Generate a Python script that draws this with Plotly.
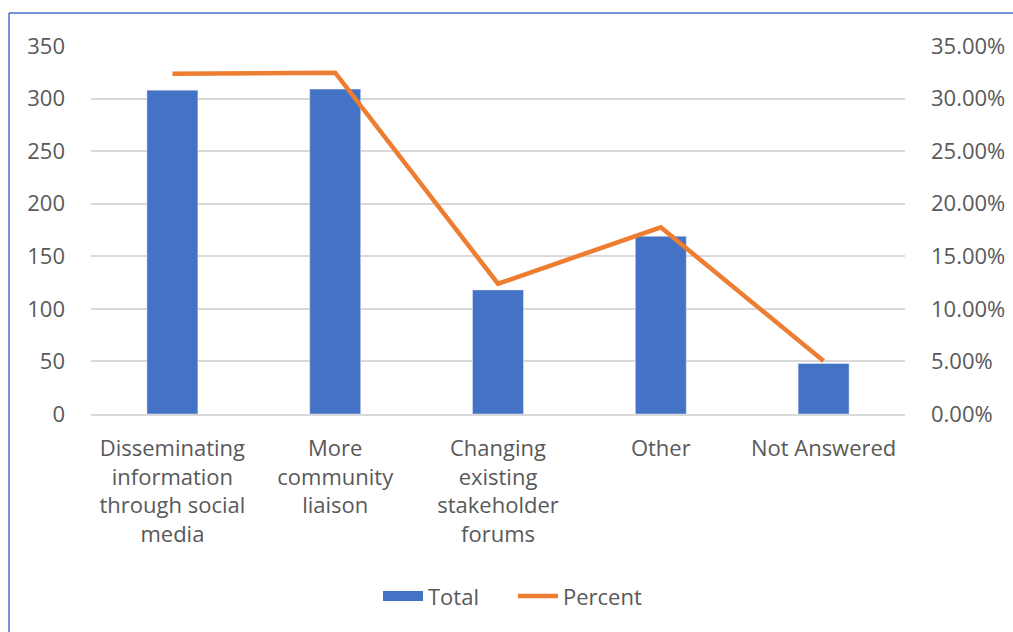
import plotly.graph_objects as go

categories = ["Disseminating<br>information<br>through social<br>media",
              "More<br>community<br>liaison",
              "Changing<br>existing<br>stakeholder<br>forums",
              "Other",
              "Not Answered"]
totals = [308, 309, 118, 169, 48]
percent = [0.3235, 0.3246, 0.1239, 0.1775, 0.0504]

left_ticks = [0, 50, 100, 150, 200, 250, 300, 350]
right_ticks = [0, 0.05, 0.10, 0.15, 0.20, 0.25, 0.30, 0.35]
right_labels = ["0.00%", "5.00%", "10.00%", "15.00%", "20.00%", "25.00%", "30.00%", "35.00%"]

W, H = 1013, 632
L, R, T, B = 91, 108, 46, 218
pw, ph = W - L - R, H - T - B

fig = go.Figure()
fig.add_trace(go.Bar(x=categories, y=totals, name="Total", marker_color="#4472C4",
                     width=0.313, yaxis="y", showlegend=False))
# legend entry for the bars (wide swatch like the original)
fig.add_trace(go.Scatter(x=[None], y=[None], name="Total", mode="lines",
                         line=dict(color="#4472C4", width=14), yaxis="y"))
fig.add_trace(go.Scatter(x=categories, y=percent, name="Percent", mode="lines",
                         line=dict(color="#ED7D31", width=4.5), yaxis="y2"))

font = dict(family="Open Sans", size=22, color="#595959")

fig.update_layout(
    width=W, height=H,
    margin=dict(l=L, r=R, t=T, b=B, autoexpand=False),
    paper_bgcolor="white", plot_bgcolor="white",
    font=font,
    showlegend=True,
    legend=dict(orientation="h", x=(378 - L) / pw, xanchor="left", y=-0.495, yanchor="middle",
                font=font, itemwidth=40, traceorder="normal", entrywidth=80),
    xaxis=dict(showgrid=False, showline=True, linecolor="#D9D9D9", linewidth=1.5,
               ticks="", tickfont=font, ticklabelstandoff=14, automargin=False),
    yaxis=dict(range=[0, 350], tickvals=left_ticks, showgrid=True, gridcolor="#D9D9D9",
               gridwidth=1.5, zeroline=False, showline=False, ticks="",
               tickfont=font, ticklabelstandoff=25, automargin=False),
    yaxis2=dict(range=[0, 0.35], tickvals=right_ticks, ticktext=right_labels,
                overlaying="y", side="right", showgrid=False, zeroline=False,
                showline=False, ticks="", tickfont=font, ticklabelstandoff=25,
                automargin=False),
)
# chart-area border (left and top edges visible)
fig.add_shape(type="line", xref="paper", yref="paper",
              x0=(9 - L) / pw, x1=(W + 20 - L) / pw,
              y0=(H - 13 - B) / ph, y1=(H - 13 - B) / ph,
              line=dict(color="#4472C4", width=1.5))
fig.add_shape(type="line", xref="paper", yref="paper",
              x0=(9 - L) / pw, x1=(9 - L) / pw,
              y0=(H - 13 - B) / ph, y1=-(B + 20) / ph,
              line=dict(color="#4472C4", width=1.5))

fig.write_html("out.html")
